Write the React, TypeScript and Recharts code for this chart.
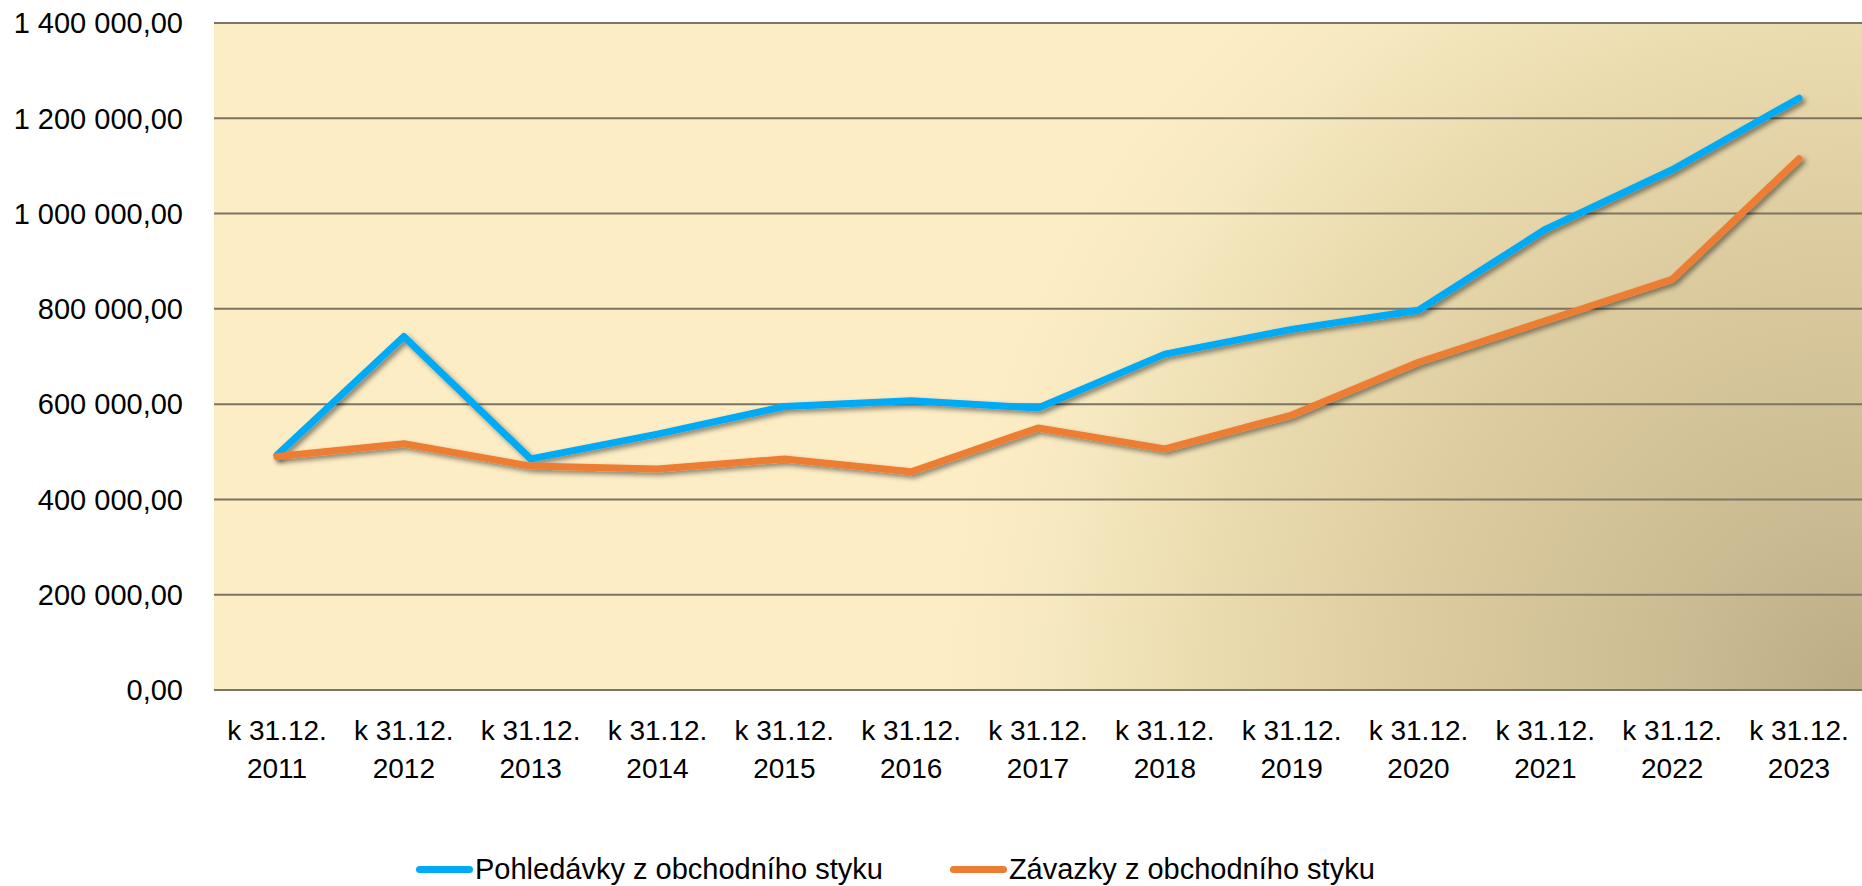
import React from 'react';
import { LineChart, Line, XAxis, YAxis, CartesianGrid, Legend } from 'recharts';

// k 31.12. of each year
const years = ['2011', '2012', '2013', '2014', '2015', '2016', '2017', '2018', '2019', '2020', '2021', '2022', '2023'];
const pohledavky = [493000, 742000, 485000, 537000, 595000, 607000, 592000, 705000, 757000, 797000, 967000, 1092000, 1242000];
const zavazky = [490000, 517000, 470000, 464000, 485000, 458000, 550000, 506000, 577000, 688000, 775000, 862000, 1115000];
const yTicks = [0, 200000, 400000, 600000, 800000, 1000000, 1200000, 1400000];

const SERIES = [
  { key: 'pohledavky', name: 'Pohledávky z obchodního styku', color: '#00AAF5' },
  { key: 'zavazky', name: 'Závazky z obchodního styku', color: '#ED7D31' },
];

const FONT = '"Liberation Sans", Arial, sans-serif';

const data = years.map((y, i) => ({
  label: y,
  pohledavky: pohledavky[i],
  zavazky: zavazky[i],
}));

// 1400000 -> "1 400 000,00"
const formatCz = (v: number) => {
  const s = Math.round(v).toString().replace(/\B(?=(\d{3})+(?!\d))/g, ' ');
  return s + ',00';
};

const XTick = (props: any) => {
  const { x, y, payload } = props;
  return (
    <g>
      <text x={x} y={y + 50} textAnchor="middle" fontSize={28} fontFamily={FONT} fill="#000">
        k 31.12.
      </text>
      <text x={x} y={y + 88} textAnchor="middle" fontSize={28} fontFamily={FONT} fill="#000">
        {payload.value}
      </text>
    </g>
  );
};

const LegendContent = () => (
  <div style={{ display: 'flex', alignItems: 'center', paddingLeft: 416, paddingTop: 52, fontFamily: FONT, fontSize: 29, color: '#000', lineHeight: '34px' }}>
    {SERIES.map((s, i) => (
      <div key={s.key} style={{ display: 'flex', alignItems: 'center', marginRight: i === 0 ? 67 : 0 }}>
        <span style={{ display: 'inline-block', width: 57, height: 7, borderRadius: 4, background: s.color, marginRight: 2 }} />
        <span>{s.name}</span>
      </div>
    ))}
  </div>
);

export default function App() {
  return (
    <div style={{ width: 1862, height: 886, background: '#fff' }}>
      <style>{'body{margin:0}'}</style>
      <LineChart width={1862} height={886} data={data} margin={{ top: 23, right: 0, left: 0, bottom: 0 }}>
        <defs>
          <radialGradient id="plotBg" gradientUnits="userSpaceOnUse" cx={1862} cy={690} r={920}>
            <stop offset="0" stopColor="#BBAC86" />
            <stop offset="0.2" stopColor="#CBBB92" />
            <stop offset="0.5" stopColor="#DDCC9F" />
            <stop offset="0.72" stopColor="#EBDCB0" />
            <stop offset="0.88" stopColor="#F6E8BF" />
            <stop offset="1" stopColor="#FDEDC5" />
          </radialGradient>
          <filter id="lineShadow" x="-5%" y="-20%" width="110%" height="140%">
            <feDropShadow dx="3" dy="3" stdDeviation="2.5" floodColor="#000" floodOpacity="0.45" />
          </filter>
        </defs>
        <CartesianGrid vertical={false} stroke="#7C7564" strokeWidth={2} fill="url(#plotBg)" fillOpacity={1} />
        <XAxis
          dataKey="label"
          axisLine={false}
          tickLine={false}
          tickSize={0}
          tickMargin={0}
          height={110}
          interval={0}
          padding={{ left: 63, right: 63 }}
          tick={<XTick />}
        />
        <YAxis
          width={214}
          domain={[0, 1400000]}
          ticks={yTicks}
          axisLine={false}
          tickLine={false}
          tickSize={0}
          tickMargin={31}
          tickFormatter={formatCz}
          tick={{ fontSize: 29, fontFamily: FONT, fill: '#000' }}
        />
        <Legend verticalAlign="bottom" height={86} content={<LegendContent />} />
        {SERIES.map((s) => (
          <Line
            key={s.key}
            type="linear"
            dataKey={s.key}
            name={s.name}
            stroke={s.color}
            strokeWidth={7}
            strokeLinecap="round"
            strokeLinejoin="round"
            dot={false}
            activeDot={false}
            filter="url(#lineShadow)"
            isAnimationActive={false}
          />
        ))}
      </LineChart>
    </div>
  );
}
